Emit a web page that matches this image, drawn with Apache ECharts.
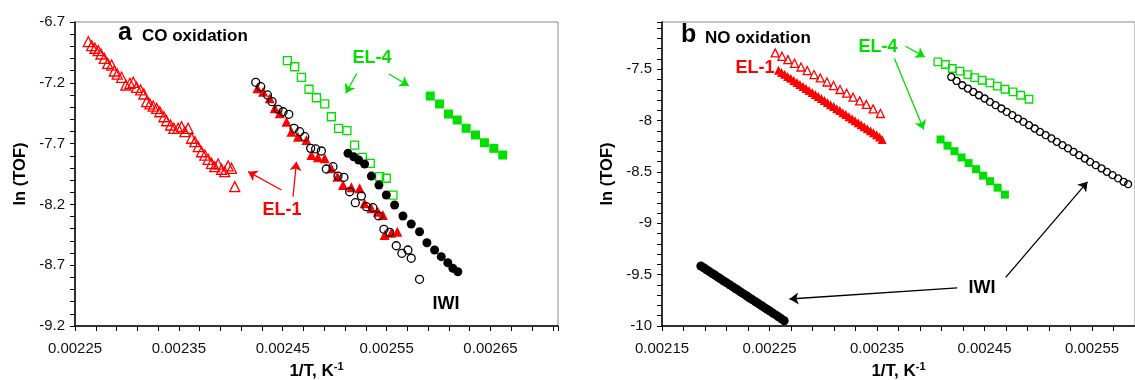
<!DOCTYPE html>
<html>
<head>
<meta charset="utf-8">
<script src="https://cdn.jsdelivr.net/npm/echarts@6/dist/echarts.min.js"></script>
<style>
html, body { margin: 0; padding: 0; background: #fff; }
#chart { width: 1135px; height: 380px; }
</style>
</head>
<body>
<div id="chart"></div>
<script>
// (a) CO oxidation
const coEl1Open = [
    [0.0022628, -6.862], [0.0022661, -6.895], [0.0022692, -6.916], [0.0022724, -6.936], [0.0022750, -6.963],
    [0.0022782, -6.999], [0.0022814, -7.040], [0.0022853, -7.054], [0.0022878, -7.103], [0.0022907, -7.128],
    [0.0022949, -7.155], [0.0022990, -7.218], [0.0023029, -7.204], [0.0023061, -7.196], [0.0023093, -7.237],
    [0.0023132, -7.259], [0.0023163, -7.292], [0.0023189, -7.355], [0.0023221, -7.374], [0.0023253, -7.391],
    [0.0023286, -7.410], [0.0023317, -7.438], [0.0023356, -7.479], [0.0023382, -7.512], [0.0023420, -7.547],
    [0.0023452, -7.574], [0.0023493, -7.574], [0.0023526, -7.561], [0.0023558, -7.602], [0.0023589, -7.574],
    [0.0023622, -7.656], [0.0023654, -7.684], [0.0023686, -7.725], [0.0023718, -7.767], [0.0023750, -7.794],
    [0.0023782, -7.829], [0.0023814, -7.862], [0.0023846, -7.890], [0.0023878, -7.868], [0.0023911, -7.911],
    [0.0023942, -7.931], [0.0023974, -7.884], [0.0024007, -7.903], [0.0024038, -8.054]
];
const coEl1Filled = [
    [0.0024257, -7.245], [0.0024311, -7.273], [0.0024375, -7.327], [0.0024423, -7.410], [0.0024471, -7.451],
    [0.0024536, -7.520], [0.0024584, -7.602], [0.0024647, -7.643], [0.0024728, -7.670], [0.0024776, -7.794],
    [0.0024839, -7.813], [0.0024904, -7.821], [0.0024968, -7.903], [0.0025026, -7.972], [0.0025080, -8.041],
    [0.0025161, -8.059], [0.0025240, -8.068], [0.0025288, -8.191], [0.0025353, -8.232], [0.0025416, -8.260],
    [0.0025464, -8.287], [0.0025481, -8.452], [0.0025545, -8.433], [0.0025603, -8.425]
];
const coIwiOpen = [
    [0.0024240, -7.196], [0.0024288, -7.232], [0.0024353, -7.300], [0.0024397, -7.355], [0.0024455, -7.418],
    [0.0024503, -7.438], [0.0024558, -7.459], [0.0024609, -7.574], [0.0024663, -7.602], [0.0024712, -7.643],
    [0.0024769, -7.739], [0.0024817, -7.744], [0.0024872, -7.761], [0.0024920, -7.909], [0.0024984, -7.890],
    [0.0025032, -7.967], [0.0025089, -7.977], [0.0025144, -8.096], [0.0025257, -8.131], [0.0025199, -8.186],
    [0.0025305, -8.219], [0.0025368, -8.227], [0.0025423, -8.295], [0.0025474, -8.405], [0.0025529, -8.430],
    [0.0025593, -8.540], [0.0025647, -8.602], [0.0025705, -8.575], [0.0025737, -8.643], [0.0025817, -8.816]
];
const coIwiFilled = [
    [0.0025128, -7.780], [0.0025183, -7.808], [0.0025231, -7.835], [0.0025288, -7.868], [0.0025353, -7.967],
    [0.0025426, -8.041], [0.0025497, -8.123], [0.0025577, -8.205], [0.0025657, -8.295], [0.0025737, -8.361],
    [0.0025817, -8.425], [0.0025888, -8.515], [0.0025962, -8.575], [0.0026026, -8.630], [0.0026089, -8.680],
    [0.0026138, -8.726], [0.0026186, -8.754]
];
const coEl4Open = [
    [0.0024545, -7.018], [0.0024615, -7.068], [0.0024680, -7.155], [0.0024753, -7.253], [0.0024824, -7.323],
    [0.0024904, -7.374], [0.0024968, -7.479], [0.0025038, -7.574], [0.0025118, -7.594], [0.0025192, -7.712],
    [0.0025266, -7.813], [0.0025343, -7.862], [0.0025433, -7.972], [0.0025497, -7.985], [0.0025561, -8.123]
];
const coEl4Filled = [
    [0.0025920, -7.309], [0.0026010, -7.374], [0.0026096, -7.457], [0.0026180, -7.506], [0.0026266, -7.574],
    [0.0026356, -7.629], [0.0026442, -7.693], [0.0026532, -7.739], [0.0026618, -7.794]
];

// (b) NO oxidation
const noEl1Open = [
    [0.0022553, -7.341], [0.0022616, -7.374], [0.0022671, -7.406], [0.0022733, -7.442], [0.0022793, -7.478],
    [0.0022851, -7.513], [0.0022914, -7.552], [0.0022972, -7.585], [0.0023035, -7.624], [0.0023096, -7.659],
    [0.0023156, -7.697], [0.0023218, -7.733], [0.0023277, -7.772], [0.0023339, -7.808], [0.0023401, -7.843],
    [0.0023464, -7.886], [0.0023532, -7.931]
];
const noEl1Filled = [
    [0.0022584, -7.510], [0.0022612, -7.531], [0.0022641, -7.549], [0.0022669, -7.570], [0.0022697, -7.588],
    [0.0022726, -7.609], [0.0022755, -7.628], [0.0022783, -7.648], [0.0022812, -7.667], [0.0022840, -7.688],
    [0.0022868, -7.706], [0.0022897, -7.727], [0.0022926, -7.745], [0.0022954, -7.766], [0.0022983, -7.785],
    [0.0023011, -7.805], [0.0023039, -7.824], [0.0023068, -7.845], [0.0023097, -7.863], [0.0023125, -7.884],
    [0.0023154, -7.902], [0.0023182, -7.923], [0.0023210, -7.941], [0.0023239, -7.962], [0.0023268, -7.981],
    [0.0023296, -8.001], [0.0023325, -8.020], [0.0023353, -8.041], [0.0023381, -8.059], [0.0023410, -8.080],
    [0.0023439, -8.099], [0.0023467, -8.119], [0.0023496, -8.138], [0.0023524, -8.160], [0.0023548, -8.184]
];
const noIwiOpen = [
    [0.0024191, -7.575], [0.0024240, -7.614], [0.0024293, -7.656], [0.0024345, -7.688], [0.0024396, -7.721],
    [0.0024448, -7.753], [0.0024501, -7.785], [0.0024550, -7.818], [0.0024603, -7.850], [0.0024657, -7.882],
    [0.0024706, -7.915], [0.0024759, -7.947], [0.0024811, -7.980], [0.0024862, -8.013], [0.0024914, -8.045],
    [0.0024967, -8.077], [0.0025016, -8.110], [0.0025069, -8.142], [0.0025123, -8.174], [0.0025172, -8.207],
    [0.0025225, -8.239], [0.0025277, -8.271], [0.0025328, -8.305], [0.0025380, -8.337], [0.0025433, -8.369],
    [0.0025482, -8.402], [0.0025535, -8.434], [0.0025589, -8.466], [0.0025638, -8.499], [0.0025691, -8.531],
    [0.0025743, -8.563], [0.0025794, -8.596], [0.0025836, -8.619]
];
const noIwiFilled = [
    [0.0021861, -9.416], [0.0021888, -9.433], [0.0021914, -9.452], [0.0021941, -9.470], [0.0021968, -9.489],
    [0.0021995, -9.506], [0.0022022, -9.525], [0.0022048, -9.543], [0.0022075, -9.562], [0.0022102, -9.580],
    [0.0022129, -9.598], [0.0022156, -9.617], [0.0022182, -9.635], [0.0022209, -9.653], [0.0022236, -9.672],
    [0.0022263, -9.690], [0.0022290, -9.708], [0.0022316, -9.727], [0.0022343, -9.745], [0.0022370, -9.764],
    [0.0022397, -9.782], [0.0022424, -9.800], [0.0022450, -9.819], [0.0022477, -9.837], [0.0022504, -9.855],
    [0.0022531, -9.874], [0.0022558, -9.892], [0.0022584, -9.911], [0.0022611, -9.930], [0.0022637, -9.949]
];
const noEl4Open = [
    [0.0024066, -7.429], [0.0024137, -7.454], [0.0024200, -7.493], [0.0024271, -7.519], [0.0024345, -7.552],
    [0.0024408, -7.581], [0.0024479, -7.607], [0.0024550, -7.633], [0.0024619, -7.665], [0.0024690, -7.695],
    [0.0024765, -7.721], [0.0024836, -7.753], [0.0024914, -7.792]
];
const noEl4Filled = [
    [0.0024091, -8.184], [0.0024156, -8.244], [0.0024221, -8.298], [0.0024287, -8.359], [0.0024352, -8.414],
    [0.0024422, -8.473], [0.0024487, -8.536], [0.0024552, -8.590], [0.0024622, -8.653], [0.0024690, -8.721]
];

const RED = '#ff0000';
const GREEN = '#00e000';
const BLACK = '#000000';
const FONT = '"Liberation Sans", Arial, Helvetica, sans-serif';

// 每隔0.0001显示一个刻度标签
function xLabel(min) {
    return function (v) {
        const r = (v - min) * 10000;
        return Math.abs(r - Math.round(r)) < 1e-4 ? v.toFixed(5) : '';
    };
}
// 每隔0.5显示一个刻度标签
function yLabel(min, fixed) {
    return function (v) {
        const r = (v - min) * 2;
        if (Math.abs(r - Math.round(r)) > 1e-4) {
            return '';
        }
        return fixed ? v.toFixed(1) : String(+v.toFixed(1));
    };
}

function xAxis(idx, min, max) {
    return {
        type: 'value', gridIndex: idx, min: min, max: max, interval: 0.00002,
        name: '{a|1/T, K}{b|-1}', nameLocation: 'middle', nameGap: 35,
        nameTextStyle: {
            rich: {
                a: { fontFamily: FONT, fontSize: 17, fontWeight: 'bold', color: '#000', verticalAlign: 'bottom', lineHeight: 19 },
                b: { fontFamily: FONT, fontSize: 11, fontWeight: 'bold', color: '#000', verticalAlign: 'top', lineHeight: 19 }
            }
        },
        splitLine: { show: false },
        axisLine: { show: true, onZero: false, lineStyle: { color: '#000', width: 1.5 } },
        axisTick: { show: true, inside: false, length: 5, lineStyle: { color: '#000', width: 1 } },
        axisLabel: { formatter: xLabel(min), color: '#111', fontFamily: FONT, fontSize: 15, margin: 15 }
    };
}

function yAxis(idx, min, max, fixed) {
    return {
        type: 'value', gridIndex: idx, min: min, max: max, interval: 0.1,
        name: 'ln (TOF)', nameLocation: 'middle', nameGap: 46, nameRotate: 90,
        nameTextStyle: { fontFamily: FONT, fontSize: 16.5, fontWeight: 'bold', color: '#000' },
        splitLine: { show: false },
        axisLine: { show: true, onZero: false, lineStyle: { color: '#000', width: 1.5 } },
        axisTick: { show: true, inside: false, length: 5, lineStyle: { color: '#000', width: 1 } },
        axisLabel: { formatter: yLabel(min, fixed), color: '#111', fontFamily: FONT, fontSize: 15, margin: 10 }
    };
}

function hollow(name, idx, data, symbol, size, color) {
    return {
        name: name, type: 'scatter', xAxisIndex: idx, yAxisIndex: idx, data: data,
        symbol: symbol, symbolSize: size,
        itemStyle: { color: 'rgba(0,0,0,0)', borderColor: color, borderWidth: 1.3, opacity: 1 }
    };
}
function filled(name, idx, data, symbol, size, color) {
    return {
        name: name, type: 'scatter', xAxisIndex: idx, yAxisIndex: idx, data: data,
        symbol: symbol, symbolSize: size,
        itemStyle: { color: color, opacity: 1 }
    };
}
function arrows(color, pairs) {
    return {
        silent: true, symbol: ['none', 'arrow'], symbolSize: 9, animation: false,
        label: { show: false },
        lineStyle: { color: color, width: 1.3, type: 'solid', opacity: 1 },
        data: pairs.map(p => [{ coord: p[0] }, { coord: p[1] }])
    };
}

function label(text, x, y, color, size) {
    return {
        type: 'text', x: x, y: y, z: 100,
        style: {
            text: text, fill: color, font: 'bold ' + size + 'px ' + FONT,
            textAlign: 'center', textVerticalAlign: 'middle', align: 'center', verticalAlign: 'middle'
        }
    };
}

const series = [
    hollow('EL-4 open', 0, coEl4Open, 'rect', 8, GREEN),
    filled('EL-4 filled', 0, coEl4Filled, 'rect', 9, GREEN),
    hollow('EL-1 open', 0, coEl1Open, 'triangle', 10, RED),
    filled('EL-1 filled', 0, coEl1Filled, 'triangle', 10, RED),
    filled('IWI filled', 0, coIwiFilled, 'circle', 9, BLACK),
    hollow('IWI open', 0, coIwiOpen, 'circle', 8, BLACK),

    hollow('EL-4 open', 1, noEl4Open, 'rect', 7.5, GREEN),
    filled('EL-4 filled', 1, noEl4Filled, 'rect', 8, GREEN),
    hollow('EL-1 open', 1, noEl1Open, 'triangle', 8, RED),
    filled('EL-1 filled', 1, noEl1Filled, 'triangle', 9, RED),
    filled('IWI filled', 1, noIwiFilled, 'circle', 9, BLACK),
    hollow('IWI open', 1, noIwiOpen, 'circle', 7, BLACK)
];

series[0].markLine = arrows(GREEN, [
    [[0.0025214, -7.122], [0.0025106, -7.286]],
    [[0.0025522, -7.128], [0.0025714, -7.224]]
]);
series[3].markLine = arrows(RED, [
    [[0.0024488, -8.082], [0.0024166, -7.931]],
    [[0.0024599, -8.137], [0.0024632, -7.849]]
]);
series[6].markLine = arrows(GREEN, [
    [[0.0023765, -7.276], [0.0023945, -7.380]],
    [[0.0023662, -7.396], [0.0023935, -8.087]]
]);
series[10].markLine = arrows(BLACK, [
    [[0.0024246, -9.628], [0.0022686, -9.737]],
    [[0.0024697, -9.526], [0.0025458, -8.596]]
]);

const chart = echarts.init(document.getElementById('chart'), null, { renderer: 'canvas' });
chart.setOption({
    animation: false,
    backgroundColor: '#fff',
    textStyle: { fontFamily: FONT },
    grid: [
        { left: 75, top: 22, width: 483, height: 304, show: true, borderColor: '#888', borderWidth: 1, containLabel: false, outerBoundsMode: 'none' },
        { left: 662, top: 22, width: 473, height: 304, show: true, borderColor: '#888', borderWidth: 1, containLabel: false, outerBoundsMode: 'none' }
    ],
    xAxis: [xAxis(0, 0.00225, 0.002715), xAxis(1, 0.00215, 0.00259)],
    yAxis: [yAxis(0, -9.2, -6.7, true), yAxis(1, -10, -7.04, false)],
    series: series,
    graphic: [
        { type: 'text', x: 118, y: 46, style: { text: 'a', fill: '#000', font: 'bold 25px ' + FONT, textVerticalAlign: 'bottom', verticalAlign: 'bottom' } },
        { type: 'text', x: 142, y: 44.5, style: { text: 'CO oxidation', fill: '#000', font: 'bold 17px ' + FONT, textVerticalAlign: 'bottom', verticalAlign: 'bottom' } },
        { type: 'text', x: 681, y: 48, style: { text: 'b', fill: '#000', font: 'bold 25px ' + FONT, textVerticalAlign: 'bottom', verticalAlign: 'bottom' } },
        { type: 'text', x: 705, y: 46.5, style: { text: 'NO oxidation', fill: '#000', font: 'bold 17px ' + FONT, textVerticalAlign: 'bottom', verticalAlign: 'bottom' } },
        label('EL-4', 372, 58, GREEN, 18),
        label('EL-1', 282, 210, RED, 18),
        label('IWI', 446, 304, '#000', 18),
        label('EL-1', 755, 68, RED, 18),
        label('EL-4', 878, 47, GREEN, 18),
        label('IWI', 982, 288, '#000', 18)
    ]
});
</script>
</body>
</html>
